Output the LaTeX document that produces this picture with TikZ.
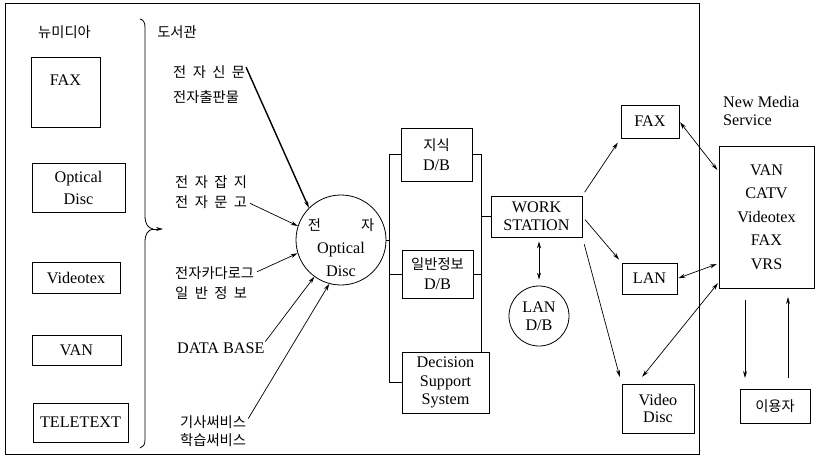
\documentclass[tikz,border=0pt]{standalone}
\usepackage{fontspec}
\setmainfont{Liberation Serif}
\newfontfamily\kr{Noto Sans CJK KR}[WordSpace=2.0]
\usetikzlibrary{arrows.meta}
\newcommand\latf{\fontsize{16.2}{18}\selectfont}
\newcommand\krf{\kr\fontsize{14.3}{18}\selectfont}
\begin{document}
\begin{tikzpicture}[x=1pt,y=-1pt,
  box/.style={draw, line width=0.8pt, inner sep=0pt, align=center, font=\latf},
  lbl/.style={inner sep=0pt, anchor=west, font=\krf},
  arr/.style={-{Stealth[length=7pt,width=4pt]}, line width=0.7pt},
  darr/.style={{Stealth[length=7pt,width=4pt]}-{Stealth[length=7pt,width=4pt]}, line width=0.7pt},
  bus/.style={line width=0.8pt}]
\useasboundingbox (0,0) rectangle (816,460);
% frame
\draw[line width=0.9pt] (5,3) rectangle (699,454);
% left column
\node[lbl, anchor=center] (nm) at (64.5,32) {뉴미디아};
\node[box, minimum width=69pt, text height=28pt, text depth=42pt] (fax1) at (65.5,92) {FAX};
\node[box, minimum width=93pt, minimum height=49pt, font=\fontsize{16.2}{22}\selectfont] (od1) at (78.5,187.5) {Optical\\Disc};
\node[box, minimum width=88pt, minimum height=31pt] (vt1) at (76,277.5) {Videotex};
\node[box, minimum width=89pt, minimum height=30pt] (van1) at (76.5,350) {VAN};
\node[box, minimum width=95pt, minimum height=39pt] (tt1) at (80.5,422.5) {TELETEXT};
% brace
\draw[line width=0.8pt] (140,19) .. controls (144,20) and (145,23) .. (145,28) -- (145,216)
  .. controls (145,224) and (148,228) .. (153,229);
\draw[line width=0.8pt] (153,229) .. controls (148,230) and (145,234) .. (145,242) -- (145,440)
  .. controls (145,445) and (143,447) .. (140,448);
\coordinate (bt) at (152,229);
\coordinate (bh) at (163,229);
\draw[arr] (bt) -- (bh);
% library labels
\node[lbl, anchor=center] (lib) at (177,32) {도서관};
\node[lbl] (t1a) at (173,72) {전 자 신 문};
\node[lbl] (t1b) at (173,97) {전자출판물};
\node[lbl] (t2a) at (175,182) {전 자 잡 지};
\node[lbl] (t2b) at (175,202) {전 자 문 고};
\node[lbl] (t3a) at (175,273) {전자카다로그};
\node[lbl] (t3b) at (175,293) {일 반 정 보};
\node[lbl, font=\latf] (t4) at (177,348) {DATA BASE};
\node[lbl] (t5a) at (180,422) {기사써비스};
\node[lbl] (t5b) at (180,440) {학습써비스};
% optical disc circle
\node[draw, circle, line width=0.8pt, minimum size=90pt, inner sep=0pt] (od) at (341,240) {};
\node[align=center, inner sep=0pt, font=\fontsize{16.2}{23}\selectfont] (odt) at (341,247.5) {{\krf 전\hspace{2.8em}자}\\Optical\\Disc};
% arrows into circle
\draw[arr, line width=1.4pt, shorten <=2pt] (t1a.north east) -- (od.135);
\draw[arr, shorten <=3pt] (t2b.east) -- (od.162);
\draw[arr, shorten <=3pt] (t3a.east) -- (od.197);
\draw[arr, shorten <=1pt] (t4.north east) -- (od.234);
\draw[arr, shorten <=4pt] (t5a.east) -- (od.255);
% D/B boxes
\node[box, minimum width=71pt, minimum height=53pt, font=\fontsize{16.2}{20}\selectfont] (jisik) at (436.5,154.5) {{\krf 지식}\\D/B};
\node[box, minimum width=71pt, minimum height=48pt, font=\fontsize{16.2}{20}\selectfont] (ilban) at (437.5,274) {{\krf 일반정보}\\D/B};
\node[box, minimum width=87pt, minimum height=61pt, font=\fontsize{16.2}{18.5}\selectfont] (dss) at (445.5,382.5) {Decision\\Support\\System};
\node[box, minimum width=91pt, minimum height=41pt, font=\fontsize{16.2}{18}\selectfont] (ws) at (536.5,216.5) {WORK\\STATION};
\node[draw, circle, line width=0.8pt, minimum size=60pt, inner sep=0pt, align=center, font=\fontsize{16.2}{18}\selectfont] (landb) at (539,316) {LAN\\D/B};
% buses
\draw[bus] (jisik.west) -- ++(-11,0) coordinate (bl) -- (bl |- dss.west) -- (dss.west);
\draw[bus] (ilban.west) -- (ilban.west -| bl);
\draw[bus] (od.east) -- (od.east -| bl);
\draw[bus] (jisik.east) -- ++(9,0) coordinate (br) -- (br |- dss.north);
\draw[bus] (ilban.east) -- (ilban.east -| br);
\draw[bus] (ws.west) -- (ws.west -| br);
\draw[darr, shorten <=4pt, shorten >=6pt] (landb.north |- ws.south) -- (landb.north);
% right boxes
\node[box, minimum width=58pt, minimum height=33pt] (fax2) at (650,121.5) {FAX};
\node[box, minimum width=55pt, minimum height=31pt] (lan2) at (649.5,278.5) {LAN};
\node[box, minimum width=72pt, minimum height=49pt, font=\fontsize{16.2}{17.5}\selectfont] (vd) at (658,408.5) {Video\\Disc};
\draw[arr, shorten <=4pt, shorten >=5pt] (ws.north east) -- (fax2.south west);
\draw[arr, shorten <=4pt, shorten >=4pt] (ws.east) -- (lan2.north west);
\draw[arr, shorten <=7pt, shorten >=7pt] (ws.south east) -- (vd.north west);
% new media service
\node[lbl, font=\fontsize{16.2}{18}\selectfont, align=left] (nmsl) at (723,111) {New Media\\Service};
\node[box, minimum width=95pt, minimum height=142pt, font=\fontsize{16.2}{23.5}\selectfont] (nms) at (766.5,217) {VAN\\CATV\\Videotex\\FAX\\VRS};
\node[box, minimum width=70pt, minimum height=34pt, font=\krf] (user) at (775,406) {이용자};
\draw[darr, shorten <=1pt, shorten >=2pt] (fax2.east) -- ([yshift=-26pt]nms.north west);
\draw[darr, shorten <=1pt, shorten >=2pt] (lan2.east) -- ([yshift=25pt]nms.south west);
\draw[darr, shorten <=1pt, shorten >=1pt] ([xshift=20pt,yshift=6pt]vd.north west) -- ([yshift=6pt]nms.south west);
\coordinate (d1) at (745,300);
\coordinate (d2) at (745,378);
\coordinate (u1) at (788,378);
\coordinate (u2) at (788,297);
\draw[arr] (d1) -- (d2);
\draw[arr] (u1) -- (u2);
\end{tikzpicture}
\end{document}
